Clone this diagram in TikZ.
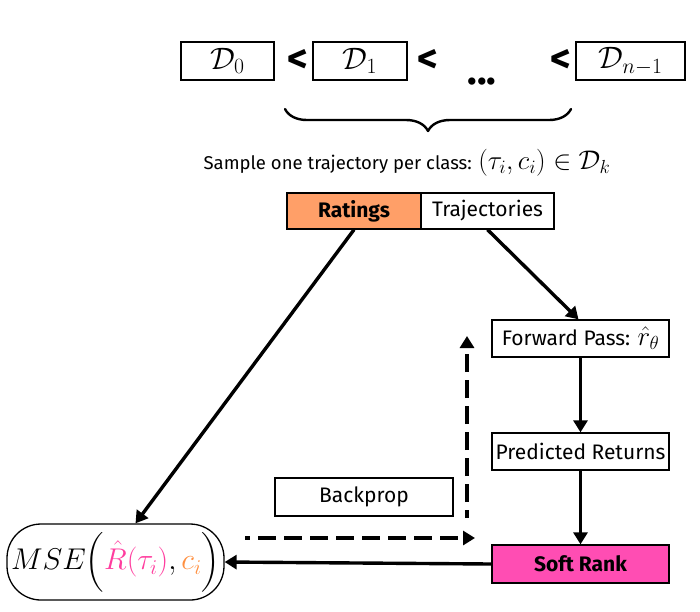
\RequirePackage{fix-cm}
\documentclass[tikz,border=0pt]{standalone}
\usepackage{amsmath}
\usepackage{fontspec}
\setmainfont{Fira Sans}
\usetikzlibrary{arrows.meta,decorations.pathreplacing,calc,shapes.misc}
\definecolor{rorange}{HTML}{FF9F68}
\definecolor{rpink}{HTML}{FF4DB3}
\definecolor{mpink}{HTML}{FF3D9E}
\definecolor{morange}{HTML}{FF8F3F}
\begin{document}
\begin{tikzpicture}[x=1pt,y=-1pt,
  dbox/.style={draw,line width=1.3pt,minimum height=38pt,inner sep=0pt,font=\fontsize{31}{33}\selectfont},
  lbox/.style={draw,line width=1.3pt,minimum width=177pt,minimum height=37pt,inner sep=0pt,font=\fontsize{21}{23}\selectfont},
  lt/.style={font=\fontsize{40}{42}\selectfont\bfseries},
  arr/.style={line width=3.4pt,-{Triangle[length=12pt,width=14pt]}},
  darr/.style={line width=3.4pt,-{Triangle[length=12pt,width=14pt]},dash pattern=on 18pt off 8pt}
]
\useasboundingbox (0,0) rectangle (700,611);

% top row
\node[dbox,minimum width=93pt] (d0) at (227.5,61) {$\mathcal{D}_0$};
\node[dbox,minimum width=94pt] (d1) at (360,61) {$\mathcal{D}_1$};
\node[dbox,minimum width=109pt] (dn) at (630.5,61) {$\mathcal{D}_{n-1}$};
\node[lt] (lt1) at (298,61) {<};
\node[lt] (lt2) at (428,61) {<};
\node[lt] (lt3) at (561,61) {<};
\node[font=\fontsize{40}{42}\selectfont\bfseries,anchor=base] (dots) at (482,84) {...};

% brace
\coordinate (bl) at (285,109);
\coordinate (br) at (571,109);
\draw[line width=2.4pt,line cap=round,line join=round,decoration={brace,mirror,amplitude=22pt,aspect=0.5}] decorate {(bl) -- (br)};

\node[font=\fontsize{18.5}{22}\selectfont] (sample) at (407,163) {Sample one trajectory per class: {\fontsize{27}{30}\selectfont$(\tau_i, c_i) \in \mathcal{D}_k$}};

% ratings / trajectories
\node[lbox,fill=rorange,minimum width=134pt,minimum height=36pt,font=\fontsize{21}{23}\selectfont\bfseries] (rat) at (354,211) {Ratings};
\node[lbox,minimum width=133pt,minimum height=36pt] (traj) at (487.5,211) {Trajectories};

% right column
\node[lbox] (fp) at (580.5,338.5) {Forward Pass: {\fontsize{27}{28}\selectfont$\hat{r}_\theta$}};
\node[lbox] (pr) at (580.5,451.5) {Predicted Returns};
\node[lbox,fill=rpink,minimum height=38pt,font=\fontsize{21}{23}\selectfont\bfseries] (sr) at (580.5,564) {Soft Rank};

% backprop
\node[lbox,minimum width=178pt,minimum height=38pt] (bp) at (364,497) {Backprop};

% MSE
\node[draw,line width=1.3pt,rounded corners=34pt,minimum width=217pt,minimum height=76pt,inner sep=0pt,font=\fontsize{30}{36}\selectfont] (mse) at (115.5,562)
  {$MSE\Big(\textcolor{mpink}{\hat{R}(\tau_i)}, \textcolor{morange}{c_i}\Big)$};

% arrows
\draw[arr] (rat.south) -- ($(mse.north)+(20,0)$);
\draw[arr] (traj.south) -- ($(fp.north)+(-2,0)$);
\draw[arr] (fp.south) -- (pr.north);
\draw[arr] (pr.south) -- (sr.north);
\draw[arr] (sr.west) -- (mse.east);

% dashed backprop arrows
\coordinate (h0) at (245,538);
\coordinate (h1) at (475,538);
\coordinate (v0) at (467,518);
\coordinate (v1) at (467,336);
\draw[darr,dash phase=13pt] (h0) -- (h1);
\draw[darr,dash phase=10pt] (v0) -- (v1);
\end{tikzpicture}
\end{document}
